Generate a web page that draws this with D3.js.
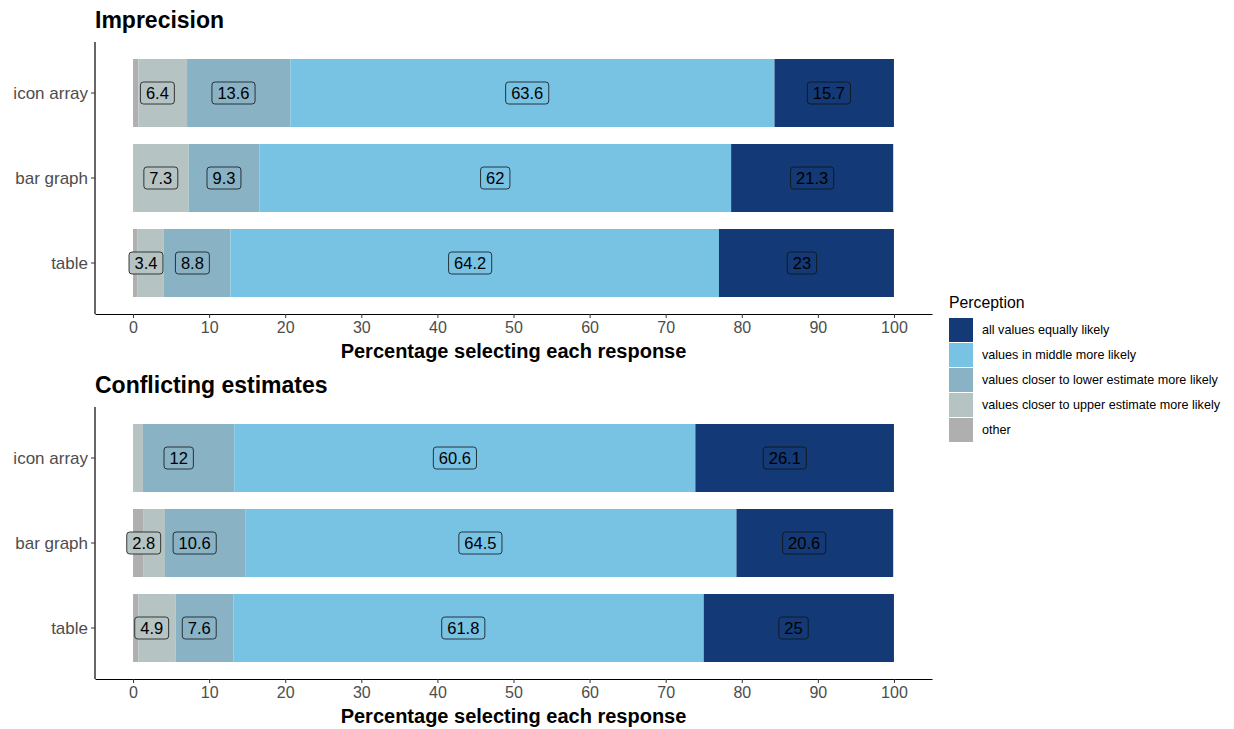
<!DOCTYPE html>
<html>
<head>
<meta charset="utf-8">
<script src="https://d3js.org/d3.v7.min.js"></script>
<style>
  body { margin: 0; background: #fff; }
  text { font-family: "Liberation Sans", Arial, Helvetica, sans-serif; }
</style>
</head>
<body>
<div id="chart"></div>
<script>
// data (percent)
var formats = ["icon array", "bar graph", "table"];
var perceptions = ["other", "values closer to upper estimate more likely",
  "values closer to lower estimate more likely", "values in middle more likely",
  "all values equally likely"];
var colors = ["#afafaf", "#b6c3c3", "#89b2c5", "#78c2e4", "#133a76"];

var imprecisionValues = [
  [0.7, 6.4, 13.6, 63.6, 15.7],  // icon array
  [0, 7.3, 9.3, 62, 21.3],       // bar graph
  [0.6, 3.4, 8.8, 64.2, 23]      // table
];
var conflictValues = [
  [0, 1.3, 12, 60.6, 26.1],
  [1.4, 2.8, 10.6, 64.5, 20.6],
  [0.7, 4.9, 7.6, 61.8, 25]
];
var panelTitles = ["Imprecision", "Conflicting estimates"];
var xTicks = d3.range(0, 101, 10);

var width = 1234, height = 729;
var svg = d3.select("#chart").append("svg")
    .attr("width", width)
    .attr("height", height);

var x = d3.scaleLinear().domain([-5, 105]).range([95, 932]);

function drawPanel(values, title, top) {
  var plotTop = top, plotBottom = top + 272;
  // discrete axis, ggplot-like expansion of 0.6 on positions 1..3
  var y = d3.scaleLinear().domain([0.4, 3.6]).range([plotTop, plotBottom]);
  var g = svg.append("g");

  g.append("text")
    .attr("x", 95).attr("y", plotTop - 14)
    .attr("font-size", 23).attr("font-weight", "bold")
    .attr("fill", "#000")
    .text(title);

  values.forEach(function(row, i) {
    var pos = i + 1;
    var acc = 0;
    var segs = row.map(function(v, j) {
      var s = {v: v, j: j, x0: acc, x1: acc + v};
      acc += v;
      return s;
    });
    g.selectAll(null).data(segs).enter().append("rect")
      .attr("x", function(d) { return x(d.x0); })
      .attr("width", function(d) { return x(d.x1) - x(d.x0); })
      .attr("y", y(pos - 0.4))
      .attr("height", y(pos + 0.4) - y(pos - 0.4))
      .attr("fill", function(d) { return colors[d.j]; });

    // labels: only values >= 2, stacked among themselves
    var shown = segs.filter(function(d) { return d.v >= 2; });
    var lacc = 0;
    shown.forEach(function(d) { d.lx = lacc + d.v / 2; lacc += d.v; });
    var lab = g.selectAll(null).data(shown).enter().append("g")
      .attr("transform", function(d) { return "translate(" + x(d.lx) + "," + y(pos) + ")"; });
    lab.append("text")
      .attr("text-anchor", "middle")
      .attr("dy", "0.36em")
      .attr("font-size", 16.5)
      .attr("fill", "#000")
      .text(function(d) { return d3.format("~g")(d.v); })
      .each(function(d) { d.w = this.getComputedTextLength(); });
    lab.insert("rect", "text")
      .attr("x", function(d) { return -d.w / 2 - 5.5; })
      .attr("y", -11)
      .attr("width", function(d) { return d.w + 11; })
      .attr("height", 22)
      .attr("rx", 3)
      .attr("fill", function(d) { return colors[d.j]; })
      .attr("stroke", "#111")
      .attr("stroke-width", 0.8);
  });

  // y axis
  g.append("line")
    .attr("x1", 95).attr("x2", 95)
    .attr("y1", plotTop).attr("y2", plotBottom)
    .attr("stroke", "#000").attr("stroke-width", 1.2);
  formats.forEach(function(f, i) {
    var yy = y(i + 1);
    g.append("line").attr("x1", 91).attr("x2", 95)
      .attr("y1", yy).attr("y2", yy).attr("stroke", "#333");
    g.append("text")
      .attr("x", 88).attr("y", yy).attr("dy", "0.35em")
      .attr("text-anchor", "end").attr("font-size", 17)
      .attr("fill", "#4d4d4d").text(f);
  });

  // x axis
  var ax = g.append("g").attr("transform", "translate(0," + plotBottom + ")")
    .call(d3.axisBottom(x).tickValues(xTicks).tickSize(4).tickSizeOuter(0).tickPadding(4));
  ax.select(".domain").attr("stroke", "#000").attr("stroke-width", 1.2);
  ax.selectAll(".tick line").attr("stroke", "#333");
  ax.selectAll(".tick text")
    .attr("font-size", 16).attr("fill", "#4d4d4d")
    .attr("font-family", "Liberation Sans, Arial, sans-serif");

  g.append("text")
    .attr("x", x(50)).attr("y", plotBottom + 44)
    .attr("text-anchor", "middle")
    .attr("font-size", 20).attr("font-weight", "bold")
    .attr("fill", "#000")
    .text("Percentage selecting each response");
}

drawPanel(imprecisionValues, panelTitles[0], 42);
drawPanel(conflictValues, panelTitles[1], 407);

// legend, top entry is the last perception
var legend = svg.append("g").attr("transform", "translate(949,0)");
legend.append("text")
  .attr("x", 0).attr("y", 308)
  .attr("font-size", 15.8).attr("fill", "#000")
  .text("Perception");
perceptions.slice().reverse().forEach(function(p, i) {
  var j = perceptions.length - 1 - i;
  var yy = 318 + i * 25;
  legend.append("rect")
    .attr("x", 0).attr("y", yy)
    .attr("width", 24).attr("height", 24)
    .attr("fill", colors[j]);
  legend.append("text")
    .attr("x", 33).attr("y", yy + 12).attr("dy", "0.35em")
    .attr("font-size", 12.6).attr("fill", "#000")
    .text(p);
});
</script>
</body>
</html>
